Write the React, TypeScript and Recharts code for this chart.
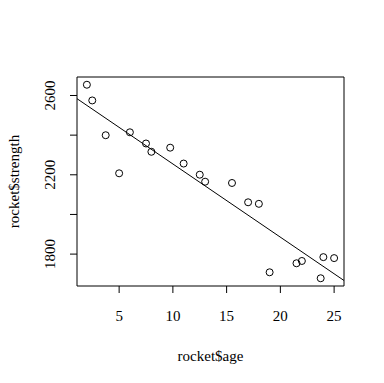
import React from 'react';
import { ScatterChart, Scatter, XAxis, YAxis, ReferenceArea, ReferenceLine, Label } from 'recharts';

// rocket propellant data: age (weeks) vs shear strength (psi)
const age = [15.5, 23.75, 8, 17, 5, 19, 24, 2.5, 7.5, 11, 13, 3.75, 25, 9.75, 22, 18, 6, 12.5, 2, 21.5];
const strength = [
  2158.7, 1678.15, 2316.0, 2061.3, 2207.5, 1708.3, 1784.7, 2575.0, 2357.9, 2256.7,
  2165.2, 2399.55, 1779.8, 2336.75, 1765.3, 2053.5, 2414.4, 2200.5, 2654.2, 1753.7,
];

const xTicks = [5, 10, 15, 20, 25];
const yTicks = [1800, 2000, 2200, 2400, 2600];
const yLabelled = [1800, 2200, 2600];

const FONT = '"Liberation Serif", "DejaVu Serif", serif';

// R style axis range: data range padded by 4% on each side
const pad = (v: number[]): [number, number] => {
  const lo = Math.min(...v);
  const hi = Math.max(...v);
  const d = (hi - lo) * 0.04;
  return [lo - d, hi + d];
};

const xDomain = pad(age);
const yDomain = pad(strength);

// least squares fit for abline
const n = age.length;
const mx = age.reduce((a, b) => a + b, 0) / n;
const my = strength.reduce((a, b) => a + b, 0) / n;
let sxy = 0;
let sxx = 0;
age.forEach((x, i) => {
  sxy += (x - mx) * (strength[i] - my);
  sxx += (x - mx) * (x - mx);
});
const slope = sxy / sxx;
const intercept = my - slope * mx;

const data = age.map((a, i) => ({ age: a, strength: strength[i] }));

const XTick = (props: any) => {
  const { x, y, payload } = props;
  return (
    <text x={x} y={y + 28} textAnchor="middle" fontFamily={FONT} fontSize={15} fill="#000">
      {payload.value}
    </text>
  );
};

const YTick = (props: any) => {
  const { x, y, payload } = props;
  if (!yLabelled.includes(payload.value)) return <g />;
  const bx = x - 15;
  return (
    <text x={bx} y={y} transform={`rotate(-90, ${bx}, ${y})`} textAnchor="middle" fontFamily={FONT} fontSize={15} fill="#000">
      {payload.value}
    </text>
  );
};

const Circle = (props: any) => {
  const { cx, cy } = props;
  return <circle cx={cx} cy={cy} r={3.5} fill="none" stroke="#000" strokeWidth={1} />;
};

export default function App() {
  return (
    <div style={{ position: 'absolute', left: 0, top: 0, width: 384, height: 383, background: '#fff' }}>
      <ScatterChart width={384} height={383} margin={{ top: 77, right: 40, bottom: 0, left: 0 }}>
        <XAxis
          type="number"
          dataKey="age"
          domain={xDomain}
          ticks={xTicks}
          allowDataOverflow
          height={97}
          axisLine={false}
          tickSize={7}
          tickMargin={0}
          tickLine={{ stroke: '#000' }}
          tick={<XTick />}
        >
          <Label
            content={(p: any) => {
              const vb = p.viewBox;
              return (
                <text x={vb.x + vb.width / 2} y={vb.y + 75} textAnchor="middle" fontFamily={FONT} fontSize={15} fill="#000">
                  rocket$age
                </text>
              );
            }}
          />
        </XAxis>
        <YAxis
          type="number"
          dataKey="strength"
          domain={yDomain}
          ticks={yTicks}
          allowDataOverflow
          width={77}
          axisLine={false}
          tickSize={7}
          tickMargin={0}
          tickLine={{ stroke: '#000' }}
          tick={<YTick />}
        >
          <Label
            content={(p: any) => {
              const vb = p.viewBox;
              const cy = vb.y + vb.height / 2;
              return (
                <text x={18.5} y={cy} transform={`rotate(-90, 18.5, ${cy})`} textAnchor="middle" fontFamily={FONT} fontSize={15} fill="#000">
                  rocket$strength
                </text>
              );
            }}
          />
        </YAxis>
        <ReferenceArea
          x1={xDomain[0]}
          x2={xDomain[1]}
          y1={yDomain[0]}
          y2={yDomain[1]}
          fill="none"
          fillOpacity={0}
          stroke="#000"
          strokeWidth={1}
          ifOverflow="visible"
        />
        <ReferenceLine
          segment={[
            { x: xDomain[0], y: intercept + slope * xDomain[0] },
            { x: xDomain[1], y: intercept + slope * xDomain[1] },
          ]}
          stroke="#000"
          strokeWidth={1}
          ifOverflow="visible"
        />
        <Scatter data={data} shape={<Circle />} isAnimationActive={false} />
      </ScatterChart>
    </div>
  );
}
